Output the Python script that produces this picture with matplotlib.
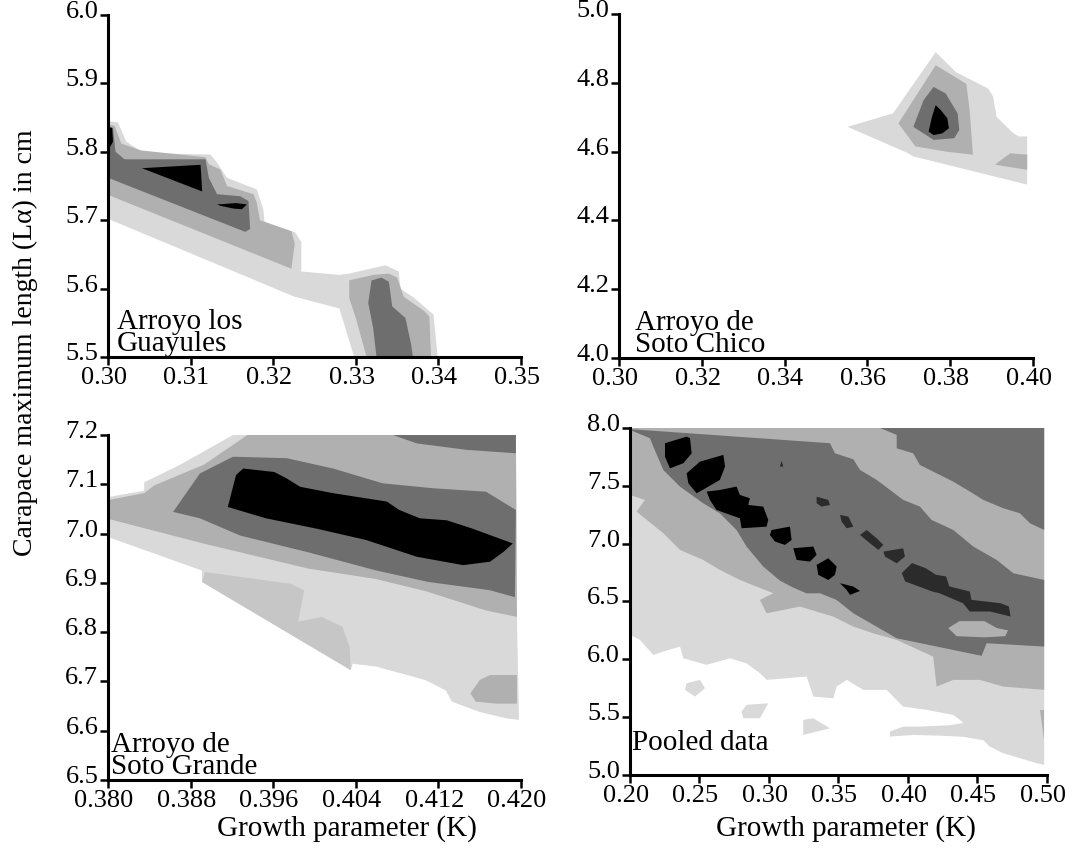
import matplotlib
matplotlib.use("Agg")
import matplotlib.pyplot as plt
from matplotlib.transforms import ScaledTranslation

plt.rcParams['font.family'] = ['Liberation Serif', 'DejaVu Serif']

# grey shades of the likelihood contours, light -> dark
LIGHT = '#d9d9d9'
PALE = '#c6c6c6'
MEDIUM = '#b0b0b0'
DARK = '#6e6e6e'
DARKER = '#2b2b2b'
BLACK = '#000000'

# ---- Arroyo los Guayules: (K, L) outlines of each shaded level ----
guay_light = [(0.3000, 5.845), (0.3012, 5.843), (0.3022, 5.815), (0.3043, 5.798), (0.3124, 5.796),
              (0.3132, 5.784), (0.3144, 5.762), (0.3180, 5.745), (0.3188, 5.716), (0.3190, 5.690),
              (0.3226, 5.683), (0.3234, 5.668), (0.3234, 5.625), (0.3280, 5.620), (0.3292, 5.622),
              (0.3321, 5.630), (0.3336, 5.634), (0.3352, 5.625), (0.3354, 5.600), (0.3371, 5.586),
              (0.3394, 5.562), (0.3399, 5.500), (0.3298, 5.500), (0.3280, 5.571), (0.3226, 5.588),
              (0.3000, 5.702)]
guay_medium = [(0.3000, 5.840), (0.3008, 5.838), (0.3016, 5.812), (0.3040, 5.802), (0.3118, 5.792),
               (0.3122, 5.782), (0.3136, 5.774), (0.3144, 5.750), (0.3176, 5.738), (0.3180, 5.726),
               (0.3184, 5.700), (0.3222, 5.684), (0.3226, 5.666), (0.3222, 5.629), (0.3000, 5.737)]
guay_medium_b = [(0.3292, 5.612), (0.3321, 5.620), (0.3340, 5.622), (0.3350, 5.616), (0.3358, 5.588),
                 (0.3383, 5.567), (0.3389, 5.559), (0.3391, 5.500), (0.3313, 5.500), (0.3300, 5.557),
                 (0.3292, 5.586)]
guay_dark = [(0.3000, 5.836), (0.3006, 5.835), (0.3009, 5.800), (0.3020, 5.789), (0.3118, 5.789),
             (0.3122, 5.762), (0.3132, 5.738), (0.3160, 5.735), (0.3170, 5.728), (0.3172, 5.687),
             (0.3166, 5.683), (0.3000, 5.762)]
guay_dark_b = [(0.3319, 5.612), (0.3331, 5.616), (0.3340, 5.610), (0.3344, 5.574), (0.3360, 5.557),
               (0.3367, 5.518), (0.3369, 5.500), (0.3325, 5.500), (0.3321, 5.542), (0.3315, 5.579)]
guay_black = [(0.3041, 5.776), (0.3112, 5.781), (0.3114, 5.742)]
guay_black_b = [(0.3132, 5.723), (0.3155, 5.725), (0.3168, 5.723), (0.3162, 5.716), (0.3152, 5.717),
                (0.3136, 5.721)]
guay_black_c = [(0.3000, 5.836), (0.3005, 5.835), (0.3006, 5.815), (0.3003, 5.808), (0.3000, 5.810)]

# ---- Arroyo de Soto Chico ----
chico_light = [(0.3552, 4.672), (0.3662, 4.711), (0.3765, 4.889), (0.3814, 4.831), (0.3892, 4.783),
               (0.3904, 4.759), (0.3912, 4.701), (0.3953, 4.653), (0.3966, 4.644), (0.3986, 4.644),
               (0.3986, 4.504), (0.3711, 4.586), (0.3699, 4.595)]
chico_medium = [(0.3675, 4.682), (0.3765, 4.851), (0.3839, 4.797), (0.3847, 4.720), (0.3855, 4.591),
                (0.3790, 4.600), (0.3716, 4.615)]
chico_medium_b = [(0.3908, 4.562), (0.3945, 4.595), (0.3986, 4.591), (0.3986, 4.547)]
chico_dark = [(0.3711, 4.672), (0.3736, 4.750), (0.3760, 4.788), (0.3789, 4.769), (0.3818, 4.711),
              (0.3822, 4.663), (0.3810, 4.639), (0.3760, 4.634)]
chico_black = [(0.3748, 4.658), (0.3756, 4.701), (0.3765, 4.735), (0.3777, 4.721), (0.3793, 4.697),
               (0.3797, 4.668), (0.3781, 4.653), (0.3760, 4.648)]

# ---- Arroyo de Soto Grande ----
grande_light = [(0.3800, 7.074), (0.3835, 7.087), (0.3835, 7.104), (0.3871, 7.141), (0.3921, 7.200),
                (0.4195, 7.200), (0.4196, 6.831), (0.4198, 6.622), (0.4186, 6.625), (0.4160, 6.638),
                (0.4133, 6.659), (0.4127, 6.682), (0.4107, 6.703), (0.4060, 6.730), (0.4037, 6.736),
                (0.4035, 6.723), (0.3891, 6.902), (0.3891, 6.925), (0.3800, 6.993)]
grande_pale = [(0.3894, 6.922), (0.3977, 6.898), (0.3990, 6.885), (0.3984, 6.821), (0.4007, 6.831),
               (0.4027, 6.811), (0.4034, 6.770), (0.4035, 6.723), (0.3891, 6.902)]
grande_medium = [(0.3800, 7.068), (0.3835, 7.082), (0.3845, 7.098), (0.3893, 7.140), (0.3935, 7.200),
                 (0.4195, 7.200), (0.4196, 6.831), (0.4166, 6.844), (0.4108, 6.883), (0.4059, 6.908),
                 (0.3994, 6.929), (0.3894, 6.979), (0.3800, 7.030)]
grande_medium_b = [(0.4151, 6.676), (0.4160, 6.703), (0.4170, 6.713), (0.4196, 6.713), (0.4196, 6.655),
                   (0.4176, 6.655), (0.4156, 6.659)]
grande_dark = [(0.3863, 7.044), (0.3889, 7.122), (0.3921, 7.156), (0.3973, 7.153), (0.4018, 7.132),
               (0.4066, 7.102), (0.4115, 7.092), (0.4166, 7.085), (0.4195, 7.048), (0.4194, 6.871),
               (0.4170, 6.885), (0.4110, 6.902), (0.4060, 6.925), (0.3994, 6.962), (0.3928, 6.996),
               (0.3889, 7.031)]
grande_dark_b = [(0.4076, 7.200), (0.4099, 7.183), (0.4147, 7.170), (0.4195, 7.163), (0.4195, 7.200)]
grande_black = [(0.3931, 7.132), (0.3961, 7.125), (0.3973, 7.112), (0.3986, 7.095), (0.4018, 7.082),
                (0.4070, 7.065), (0.4082, 7.048), (0.4102, 7.031), (0.4128, 7.027), (0.4153, 7.010),
                (0.4192, 6.980), (0.4183, 6.963), (0.4170, 6.943), (0.4144, 6.936), (0.4099, 6.953),
                (0.4050, 6.987), (0.4002, 7.010), (0.3953, 7.031), (0.3916, 7.054), (0.3924, 7.119)]

# ---- Pooled data ----
pooled_light = [(0.200, 8.000), (0.498, 8.000), (0.498, 5.087), (0.4926, 5.102), (0.4686, 5.188),
                (0.4590, 5.245), (0.4542, 5.300), (0.4398, 5.330), (0.4230, 5.340), (0.4038, 5.346),
                (0.3870, 5.332), (0.3870, 5.375), (0.3966, 5.418), (0.4086, 5.418), (0.4300, 5.430),
                (0.4398, 5.450), (0.4374, 5.476), (0.4326, 5.519), (0.4134, 5.563), (0.3966, 5.591),
                (0.3847, 5.736), (0.3679, 5.736), (0.3559, 5.822), (0.3487, 5.764), (0.3463, 5.663),
                (0.3319, 5.678), (0.3271, 5.851), (0.2983, 5.822), (0.2935, 5.880), (0.2839, 5.965),
                (0.2719, 6.009), (0.2551, 5.952), (0.2384, 6.009), (0.2360, 6.110), (0.2240, 6.067),
                (0.2168, 6.038), (0.2072, 6.168), (0.2000, 6.211)]
pooled_isle_a = [(0.2408, 5.793), (0.2504, 5.822), (0.2540, 5.750), (0.2468, 5.678), (0.2396, 5.736)]
pooled_isle_b = [(0.2839, 5.606), (0.2995, 5.620), (0.2935, 5.490), (0.2815, 5.490), (0.2803, 5.548)]
pooled_isle_c = [(0.3247, 5.476), (0.3319, 5.490), (0.3439, 5.404), (0.3247, 5.346)]
pooled_medium = [(0.200, 8.000), (0.498, 8.000), (0.498, 5.736), (0.4686, 5.764), (0.4518, 5.822),
                 (0.4326, 5.822), (0.4206, 5.764), (0.4182, 6.023), (0.3919, 6.168), (0.3750, 6.225),
                 (0.3607, 6.283), (0.3463, 6.369), (0.3223, 6.456), (0.2983, 6.398), (0.2935, 6.513),
                 (0.3031, 6.571), (0.2791, 6.686), (0.2647, 6.773), (0.2527, 6.859), (0.2360, 6.946),
                 (0.2240, 7.090), (0.2048, 7.277), (0.2108, 7.378), (0.2000, 7.421)]
pooled_medium_b = [(0.4950, 5.563), (0.4980, 5.563), (0.4980, 5.300)]
pooled_notch = [(0.4290, 6.270), (0.4370, 6.330), (0.4550, 6.330), (0.4640, 6.270), (0.4720, 6.250),
                (0.4700, 6.200), (0.4550, 6.190), (0.4350, 6.200)]
pooled_dark = [(0.2000, 7.990), (0.3439, 7.868), (0.3475, 7.781), (0.3607, 7.729), (0.3655, 7.637),
               (0.3775, 7.551), (0.3966, 7.378), (0.4086, 7.320), (0.4170, 7.205), (0.4326, 7.118),
               (0.4470, 6.975), (0.4638, 6.859), (0.4758, 6.744), (0.4980, 6.686), (0.4980, 6.110),
               (0.4566, 6.139), (0.4530, 6.030), (0.3919, 6.182), (0.3607, 6.398), (0.3487, 6.513),
               (0.3367, 6.571), (0.3271, 6.570), (0.3175, 6.620), (0.3079, 6.680), (0.2959, 6.802),
               (0.2839, 6.975), (0.2767, 7.118), (0.2647, 7.262), (0.2527, 7.349), (0.2360, 7.493),
               (0.2240, 7.637), (0.2168, 7.839), (0.2144, 7.911), (0.2000, 7.983)]
pooled_dark_b = [(0.3799, 8.000), (0.3919, 7.940), (0.3919, 7.824), (0.4038, 7.781), (0.4086, 7.680),
                 (0.4206, 7.608), (0.4326, 7.536), (0.4446, 7.450), (0.4542, 7.378), (0.4686, 7.306),
                 (0.4806, 7.262), (0.4878, 7.176), (0.4980, 7.118), (0.4980, 8.000)]
pooled_darker = [
    [(0.3343, 7.406), (0.3427, 7.378), (0.3439, 7.334), (0.3379, 7.320), (0.3343, 7.349)],
    [(0.3511, 7.248), (0.3571, 7.234), (0.3607, 7.147), (0.3559, 7.133), (0.3523, 7.190)],
    [(0.3655, 7.075), (0.3703, 7.118), (0.3775, 7.046), (0.3823, 6.989), (0.3787, 6.946), (0.3727, 7.003)],
    [(0.3823, 6.931), (0.3966, 6.960), (0.3978, 6.888), (0.3919, 6.830), (0.3835, 6.888)],
    [(0.3956, 6.745), (0.4029, 6.832), (0.4127, 6.788), (0.4201, 6.731), (0.4274, 6.716), (0.4298, 6.630),
     (0.4445, 6.586), (0.4457, 6.514), (0.4665, 6.485), (0.4726, 6.457), (0.4738, 6.370), (0.4592, 6.413),
     (0.4445, 6.413), (0.4396, 6.485), (0.4225, 6.572), (0.4176, 6.586), (0.3980, 6.673)],
    [(0.3079, 7.666), (0.3091, 7.715), (0.3103, 7.666)],
]
pooled_black = [
    [(0.2252, 7.868), (0.2408, 7.925), (0.2432, 7.911), (0.2444, 7.781), (0.2384, 7.695), (0.2288, 7.651),
     (0.2252, 7.752)],
    [(0.2408, 7.608), (0.2504, 7.709), (0.2672, 7.767), (0.2684, 7.666), (0.2647, 7.551), (0.2564, 7.493),
     (0.2480, 7.435), (0.2420, 7.522)],
    [(0.2552, 7.450), (0.2647, 7.464), (0.2767, 7.493), (0.2791, 7.421), (0.2863, 7.392), (0.2851, 7.334),
     (0.2959, 7.320), (0.2995, 7.205), (0.2983, 7.147), (0.2803, 7.133), (0.2791, 7.219), (0.2623, 7.291),
     (0.2575, 7.378)],
    [(0.3019, 7.118), (0.3151, 7.147), (0.3163, 7.032), (0.3115, 6.989), (0.3043, 7.018), (0.3007, 7.075)],
    [(0.3175, 6.960), (0.3319, 6.975), (0.3343, 6.903), (0.3295, 6.845), (0.3199, 6.859)],
    [(0.3343, 6.816), (0.3427, 6.874), (0.3487, 6.802), (0.3475, 6.730), (0.3427, 6.686), (0.3355, 6.730)],
    [(0.3511, 6.658), (0.3607, 6.629), (0.3655, 6.591), (0.3583, 6.557), (0.3559, 6.600)],
]

# ---- axes limits and ticks ----
guay_xticks = [0.30, 0.31, 0.32, 0.33, 0.34, 0.35]
guay_yticks = [5.5, 5.6, 5.7, 5.8, 5.9, 6.0]
chico_xticks = [0.30, 0.32, 0.34, 0.36, 0.38, 0.40]
chico_yticks = [4.0, 4.2, 4.4, 4.6, 4.8, 5.0]
grande_xticks = [0.380, 0.388, 0.396, 0.404, 0.412, 0.420]
grande_yticks = [6.5, 6.6, 6.7, 6.8, 6.9, 7.0, 7.1, 7.2]
pooled_xticks = [0.20, 0.25, 0.30, 0.35, 0.40, 0.45, 0.50]
pooled_yticks = [5.0, 5.5, 6.0, 6.5, 7.0, 7.5, 8.0]


def draw_layers(ax, layers):
    for colour, poly in layers:
        xs, ys = zip(*poly)
        ax.fill(xs, ys, color=colour, lw=0, zorder=1)


def style(ax, xticks, yticks, xfmt, yfmt):
    ax.set_xlim(xticks[0], xticks[-1])
    ax.set_ylim(yticks[0], yticks[-1])
    ax.set_xticks(xticks)
    ax.set_yticks(yticks)
    ax.set_xticklabels([xfmt.format(v) for v in xticks])
    ax.set_yticklabels([yfmt.format(v) for v in yticks])
    for side in ('top', 'right'):
        ax.spines[side].set_visible(False)
    for side in ('left', 'bottom'):
        ax.spines[side].set_linewidth(2.2)
        ax.spines[side].set_zorder(5)
    ax.tick_params(direction='out', length=6, width=1.8, labelsize=19, pad=1)
    ax.set_facecolor('none')
    # the printed labels sit a little left / above their ticks
    for lab in ax.get_xticklabels():
        lab.set_transform(lab.get_transform() + ScaledTranslation(-3 / 72, 0, fig.dpi_scale_trans))
    for lab in ax.get_yticklabels():
        lab.set_transform(lab.get_transform() + ScaledTranslation(0, 4 / 72, fig.dpi_scale_trans))


fig = plt.figure(figsize=(10.75, 8.52), dpi=100)

ax1 = fig.add_axes([0.1005, 0.581, 0.3842, 0.4014])
draw_layers(ax1, [(LIGHT, guay_light), (MEDIUM, guay_medium), (MEDIUM, guay_medium_b),
                  (DARK, guay_dark), (DARK, guay_dark_b), (BLACK, guay_black),
                  (BLACK, guay_black_b), (BLACK, guay_black_c)])
style(ax1, guay_xticks, guay_yticks, '{:.2f}', '{:.1f}')
ax1.text(0.022, 0.0, 'Arroyo los\nGuayules', transform=ax1.transAxes, fontsize=21,
         va='bottom', ha='left', linespacing=0.8)

ax2 = fig.add_axes([0.5758, 0.5798, 0.3851, 0.4038])
draw_layers(ax2, [(LIGHT, chico_light), (MEDIUM, chico_medium), (MEDIUM, chico_medium_b),
                  (DARK, chico_dark), (BLACK, chico_black)])
style(ax2, chico_xticks, chico_yticks, '{:.2f}', '{:.1f}')
ax2.text(0.039, 0.0, 'Arroyo de\nSoto Chico', transform=ax2.transAxes, fontsize=21,
         va='bottom', ha='left', linespacing=0.8)

ax3 = fig.add_axes([0.1005, 0.0845, 0.3842, 0.4049])
draw_layers(ax3, [(LIGHT, grande_light), (PALE, grande_pale), (MEDIUM, grande_medium),
                  (MEDIUM, grande_medium_b), (DARK, grande_dark), (DARK, grande_dark_b),
                  (BLACK, grande_black)])
style(ax3, grande_xticks, grande_yticks, '{:.3f}', '{:.1f}')
ax3.text(0.008, 0.0, 'Arroyo de\nSoto Grande', transform=ax3.transAxes, fontsize=21,
         va='bottom', ha='left', linespacing=0.8)

ax4 = fig.add_axes([0.586, 0.0904, 0.3879, 0.4073])
layers4 = [(LIGHT, pooled_light), (LIGHT, pooled_isle_a), (LIGHT, pooled_isle_b),
           (LIGHT, pooled_isle_c), (MEDIUM, pooled_medium), (MEDIUM, pooled_medium_b),
           (DARK, pooled_dark), (DARK, pooled_dark_b), (MEDIUM, pooled_notch)]
layers4 += [(DARKER, p) for p in pooled_darker]
layers4 += [(BLACK, p) for p in pooled_black]
draw_layers(ax4, layers4)
style(ax4, pooled_xticks, pooled_yticks, '{:.2f}', '{:.1f}')
ax4.text(0.005, 0.055, 'Pooled data', transform=ax4.transAxes, fontsize=21,
         va='bottom', ha='left')

fig.text(0.024, 0.598, 'Carapace maximum length (Lα) in cm', rotation=90,
         fontsize=20, ha='center', va='center')
fig.text(0.323, 0.028, 'Growth parameter (K)', fontsize=21, ha='center', va='center')
fig.text(0.787, 0.028, 'Growth parameter (K)', fontsize=21, ha='center', va='center')

fig.savefig('out.png', dpi=100)
